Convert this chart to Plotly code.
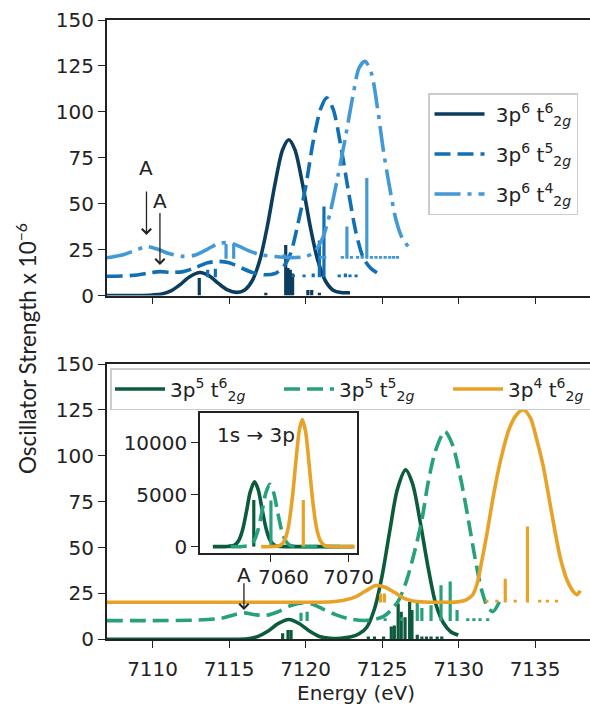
import plotly.graph_objects as go

W, H = 590, 704

# ---------------- top panel: 3p6 configurations ----------------
top_solid_E = [7107, 7109, 7110, 7110.6, 7111.2, 7111.8, 7112.4, 7113.1, 7113.7, 7114.3, 7114.9, 7115.5,
               7116, 7116.5, 7117, 7117.5, 7118, 7118.5, 7118.9, 7119.3, 7119.8, 7120.3, 7120.8, 7121.3,
               7121.8, 7122.3, 7122.9]
top_solid_f = [0, 0, 0.3, 0.8, 2.5, 5.9, 10.1, 12.5, 10.7, 6.6, 3.0, 1.7,
               2.9, 7.9, 19, 37.7, 60.7, 79.4, 84.8, 79.4, 60.7, 37.7, 19, 7.9,
               2.9, 1.6, 1.5]

top_dash_E = [7107, 7108, 7109, 7109.8, 7110.5, 7111.2, 7112, 7112.8, 7113.6, 7114.3, 7115, 7115.8,
              7116.5, 7117.3, 7118, 7118.5, 7119, 7119.5, 7120, 7120.5, 7121, 7121.38, 7121.8, 7122.3,
              7122.8, 7123.3, 7123.8, 7124.3, 7124.75]
top_dash_f = [10.5, 10.6, 11.2, 12.3, 13.0, 12.6, 13.0, 15.2, 17.8, 18.6, 17.8, 15.0,
              12.6, 11.3, 12.0, 15.0, 22.5, 39, 59, 84, 102, 107.6, 101.5, 81.5,
              56.7, 34, 20, 14.5, 12.0]

top_dashdot_E = [7107, 7108, 7109, 7109.6, 7110.3, 7111, 7112, 7112.8, 7113.6, 7114.3, 7114.9, 7115.6,
                 7116.3, 7117, 7118, 7119, 7119.8, 7120.5, 7121.1, 7121.6, 7122.1, 7122.6, 7123.1, 7123.5,
                 7123.88, 7124.3, 7124.7, 7125.1, 7125.5, 7125.9, 7126.3, 7126.8]
top_dashdot_f = [20.6, 22.0, 25.0, 26.6, 25.3, 23.0, 21.3, 22.0, 25.3, 28.2, 28.8, 27.0,
                 24.3, 22.3, 21.2, 20.6, 21.0, 23.0, 31, 45, 64.5, 86, 109, 124,
                 127.5, 121, 102, 78, 58.5, 41.5, 31.5, 25.7]

# sticks (energy, height above the series offset)
top_solid_stick_E = [7113.05, 7117.4, 7118.7, 7118.85, 7119.0, 7119.15, 7120.15, 7120.4, 7120.9]
top_solid_stick_h = [9.5, 1.5, 27.5, 15, 14, 12, 3, 3, 1.5]
top_dash_stick_E = [7113.6, 7114.1, 7119.2, 7119.9, 7120.5, 7120.9, 7121.2, 7122.2, 7122.6, 7122.9, 7123.3]
top_dash_stick_h = [4, 4.5, 1.5, 1.5, 2, 20, 38.5, 1.5, 2, 1.5, 1.5]
top_dashdot_stick_E = [7114.8, 7115.3, 7118.6, 7121.0, 7121.25, 7122.4, 7122.7, 7123.0, 7123.4, 7123.7,
                       7124.0, 7124.3, 7124.6, 7124.9, 7125.2, 7125.5, 7125.75, 7126.0]
top_dashdot_stick_h = [8, 8, 2.5, 1.5, 1.5, 1.5, 17.5, 1.5, 1.5, 1.5,
                       44, 1.5, 1.5, 1.5, 1.5, 1.5, 1.5, 1.5]
top_offsets = [0, 10, 20]

# ---------------- bottom panel: 3p5 / 3p4 configurations ----------------
bot_solid_E = [7107, 7112, 7115, 7116.2, 7116.9, 7117.5, 7118.2, 7118.9, 7119.6, 7120.3, 7120.9, 7121.6,
               7122.3, 7122.9, 7123.5, 7124.0, 7124.5, 7125.0, 7125.5, 7126.0, 7126.54, 7127.0, 7127.5,
               7128.0, 7128.5, 7129.0, 7129.5, 7129.98]
bot_solid_f = [0, 0, 0, 0.3, 1.6, 4.2, 8.5, 10.8, 8.5, 4.2, 1.5, 0.5,
               0.6, 1.2, 3.0, 6.6, 16.5, 34.6, 59, 81.8, 92.3, 84.5, 63.5,
               39.5, 19.5, 9.0, 4.0, 2.3]

bot_dash_E = [7107, 7110, 7113, 7114.5, 7115.3, 7116, 7116.7, 7117.4, 7118.2, 7119, 7119.8, 7120.5,
              7121.2, 7122, 7123, 7124, 7124.6, 7125.1, 7125.6, 7126.1, 7126.6, 7127.1, 7127.6, 7128.0,
              7128.5, 7129.1, 7129.6, 7130.1, 7130.6, 7131.1, 7131.5, 7131.9, 7132.25, 7132.7]
bot_dash_f = [10.2, 10.2, 10.5, 11.5, 13.3, 14.4, 13.4, 13.0, 15.0, 18.3, 19.8, 19.0,
              16.2, 13.3, 10.9, 10.3, 11.0, 12.5, 16.0, 21.5, 32, 47, 65, 85,
              103, 113.2, 106, 89, 67, 43, 27, 17.5, 15.1, 21]

bot_orange_E = [7107, 7112, 7117, 7120.5, 7121.7, 7122.5, 7123.3, 7124.0, 7124.6, 7125.2, 7125.8, 7126.4,
                7127.0, 7127.8, 7129.0, 7129.9, 7130.5, 7130.9, 7131.2, 7131.5, 7131.84, 7132.27, 7132.7,
                7133.3, 7133.8, 7134.23, 7134.7, 7135.1, 7135.54, 7136.08, 7136.63, 7137.1, 7137.5,
                7137.75, 7137.95]
bot_orange_f = [20.2, 20.2, 20.2, 20.2, 20.5, 21.3, 23.3, 26.7, 29.3, 28.4, 25.6, 22.4,
                20.9, 20.3, 20.2, 20.4, 21.5, 24, 30, 42, 57, 78, 96,
                114.5, 122.5, 125.1, 120.5, 109, 94, 69, 45, 32, 26,
                24.3, 26.5]

bot_solid_stick_E = [7118.5, 7118.85, 7119.05, 7124.1, 7124.5, 7125.1, 7125.6, 7125.8, 7126.05, 7126.25,
                     7126.5, 7126.8, 7126.95, 7127.3, 7127.6, 7127.9, 7128.2, 7128.6, 7128.9]
bot_solid_stick_h = [3.3, 5, 5, 1.5, 1.5, 1.5, 7, 7.5, 19.5, 15,
                     12, 20.5, 16, 2.5, 1.5, 1.5, 1.5, 1.5, 1.5]
bot_dash_stick_E = [7119.7, 7120.1, 7125.2, 7126.3, 7127.3, 7127.6, 7128.2, 7128.85, 7129.45, 7129.9,
                    7130.6, 7131.0, 7131.4, 7131.9]
bot_dash_stick_h = [4.5, 5, 1.5, 2, 10.5, 7, 8.5, 19.5, 21.5, 6, 1.5, 1.5, 1.5, 1.5]
bot_orange_stick_E = [7124.9, 7125.15, 7131.85, 7132.5, 7133.05, 7133.7, 7134.5, 7135.3, 7135.8, 7136.4]
bot_orange_stick_h = [5, 5, 1.5, 1.5, 13, 1.5, 41.5, 1.5, 1.5, 1.5]
bot_offsets = [0, 10, 20]

# ---------------- inset: 1s -> 3p ----------------
ins_solid_E = [7052.6, 7054.5, 7055.4, 7055.9, 7056.4, 7056.9, 7057.4, 7057.94, 7058.4, 7058.9, 7059.4,
               7059.9, 7060.4, 7061.0, 7063, 7070.6]
ins_solid_f = [0, 20, 150, 565, 1590, 3345, 5280, 6250, 5530, 3670, 1826, 677, 190, 30, 0, 0]
ins_dash_E = [7054.9, 7056.4, 7057.4, 7057.9, 7058.4, 7058.9, 7059.4, 7059.9, 7060.4, 7060.9, 7061.4,
              7061.9, 7062.4, 7063.2, 7064.5, 7069.3]
ins_dash_f = [0, 5, 160, 595, 1630, 3370, 5190, 6000, 5190, 3370, 1630, 595, 160, 20, 0, 0]
ins_orange_E = [7058.8, 7060.3, 7061.3, 7061.8, 7062.3, 7062.8, 7063.3, 7063.7, 7064.08, 7064.5, 7064.9,
                7065.4, 7065.9, 7066.4, 7066.9, 7067.8, 7070.8]
ins_orange_f = [0, 10, 140, 610, 1960, 4750, 8600, 11270, 12250, 11060, 8300, 4475, 1805, 545, 123, 0, 0]
ins_stick_E = [7057.85, 7060.05, 7064.2]
ins_stick_h = [4500, 4450, 4500]

# tick values
x_ticks = [7110, 7115, 7120, 7125, 7130, 7135]
y_ticks = [0, 25, 50, 75, 100, 125, 150]
ins_x_ticks = [7060, 7070]
ins_x_labels = ["7060", "7070"]
ins_y_ticks = [0, 5000, 10000]

# labels
NB = "\u00a0"
top_names = [NB + "3p<sup>6</sup> t<sup>6</sup><sub>2<i>g</i></sub>",
             NB + "3p<sup>6</sup> t<sup>5</sup><sub>2<i>g</i></sub>",
             NB + "3p<sup>6</sup> t<sup>4</sup><sub>2<i>g</i></sub>"]
bot_names = ["3p<sup>5</sup> t<sup>6</sup><sub>2<i>g</i></sub>",
             "3p<sup>5</sup> t<sup>5</sup><sub>2<i>g</i></sub>",
             "3p<sup>4</sup> t<sup>6</sup><sub>2<i>g</i></sub>"]

# styles
NAVY, MBLUE, LBLUE = "#0b3d5e", "#1170b5", "#4398d6"
DGREEN, MGREEN, ORANGE = "#0c5c3c", "#26a17a", "#e8a227"
DASH = "16px,7px"
DASHDOT = "26px,7px,4px,7px"
TXT = "#222222"
FONT = "DejaVu Sans"
LW, SW = 3.6, 3.2

fig = go.Figure()


def add_curve(E, f, color, dash, name, xa, ya, legend="legend", show=True):
    fig.add_trace(go.Scatter(
        x=E, y=f, mode="lines", name=name, xaxis=xa, yaxis=ya, legend=legend,
        legendgroup=name if show else None,
        showlegend=show, hoverinfo="skip",
        line=dict(color=color, width=LW, dash=dash, shape="spline", smoothing=0.8)))


def add_sticks(E, h, base, color, xa, ya):
    xs, ys = [], []
    for e, v in zip(E, h):
        xs += [e, e, None]
        ys += [base, base + v, None]
    fig.add_trace(go.Scatter(x=xs, y=ys, mode="lines", xaxis=xa, yaxis=ya, showlegend=False,
                             hoverinfo="skip", line=dict(color=color, width=SW)))


# top panel
add_curve(top_solid_E, top_solid_f, NAVY, "solid", top_names[0], "x", "y")
add_sticks(top_solid_stick_E, top_solid_stick_h, top_offsets[0], NAVY, "x", "y")
add_curve(top_dash_E, top_dash_f, MBLUE, DASH, top_names[1], "x", "y")
add_sticks(top_dash_stick_E, top_dash_stick_h, top_offsets[1], MBLUE, "x", "y")
add_curve(top_dashdot_E, top_dashdot_f, LBLUE, DASHDOT, top_names[2], "x", "y")
add_sticks(top_dashdot_stick_E, top_dashdot_stick_h, top_offsets[2], LBLUE, "x", "y")

# bottom panel
add_curve(bot_solid_E, bot_solid_f, DGREEN, "solid", bot_names[0], "x2", "y2", "legend2")
add_sticks(bot_solid_stick_E, bot_solid_stick_h, bot_offsets[0], DGREEN, "x2", "y2")
add_curve(bot_dash_E, bot_dash_f, MGREEN, DASH, bot_names[1], "x2", "y2", "legend2")
add_sticks(bot_dash_stick_E, bot_dash_stick_h, bot_offsets[1], MGREEN, "x2", "y2")
add_curve(bot_orange_E, bot_orange_f, ORANGE, "solid", bot_names[2], "x2", "y2", "legend2")
add_sticks(bot_orange_stick_E, bot_orange_stick_h, bot_offsets[2], ORANGE, "x2", "y2")

# inset
add_curve(ins_solid_E, ins_solid_f, DGREEN, "solid", "", "x3", "y3", show=False)
add_sticks(ins_stick_E[:1], ins_stick_h[:1], 0, DGREEN, "x3", "y3")
add_curve(ins_dash_E, ins_dash_f, MGREEN, DASH, "", "x3", "y3", show=False)
add_sticks(ins_stick_E[1:2], ins_stick_h[1:2], 0, MGREEN, "x3", "y3")
add_curve(ins_orange_E, ins_orange_f, ORANGE, "solid", "", "x3", "y3", show=False)
add_sticks(ins_stick_E[2:], ins_stick_h[2:], 0, ORANGE, "x3", "y3")

axis_common = dict(showgrid=False, zeroline=False, showline=True, linecolor=TXT, linewidth=1.5,
                   ticks="outside", ticklen=7, tickwidth=1.4, tickcolor=TXT, automargin=False,
                   tickfont=dict(family=FONT, size=20, color=TXT))

xdom = [106.7 / W, 1.0]
xrange_main = [7107, 7107 + (W - 106.7) / 15.3]


def ydom(top_px, bot_px):
    return [1 - bot_px / H, 1 - top_px / H]


fig.update_layout(
    template="none",
    width=W, height=H, margin=dict(l=0, r=0, t=0, b=0, pad=0, autoexpand=False),
    paper_bgcolor="white", plot_bgcolor="white",
    xaxis=dict(domain=xdom, range=xrange_main, anchor="y", tickvals=x_ticks, showticklabels=False,
               mirror=True, **axis_common),
    yaxis=dict(domain=ydom(20, 295.5), range=[0, 150], anchor="x", tickvals=y_ticks, **axis_common),
    xaxis2=dict(domain=xdom, range=xrange_main, anchor="y2", tickvals=x_ticks, mirror=True,
                ticklabelstandoff=4, **axis_common),
    yaxis2=dict(domain=ydom(364, 639.3), range=[0, 150], anchor="x2", tickvals=y_ticks, **axis_common),
    # inset x tick marks; their labels are placed as text below (the 7060 label sits right of its tick)
    xaxis3=dict(domain=[200 / W, 356.7 / W], range=[7050.95, 7071.05], anchor="y3", tickvals=ins_x_ticks,
                showticklabels=False, mirror=True, **axis_common),
    yaxis3=dict(domain=ydom(412.7, 553), range=[-615, 12915], anchor="x3", tickvals=ins_y_ticks,
                ticktext=[str(v) for v in ins_y_ticks], mirror=True, **axis_common),
    legend=dict(x=428 / W, y=1 - 93 / H, xanchor="left", yanchor="top", bgcolor="white",
                bordercolor="#cccccc", borderwidth=1.5, itemwidth=50, tracegroupgap=11,
                font=dict(family=FONT, size=20, color=TXT)),
    legend2=dict(x=110 / W, y=1 - 368 / H, xanchor="left", yanchor="top", orientation="h",
                 bgcolor="white", bordercolor="#cccccc", borderwidth=1.5, itemwidth=50,
                 entrywidth=104, entrywidthmode="pixels",
                 font=dict(family=FONT, size=20, color=TXT)),
    showlegend=True,
)

# inset x tick labels
for lab, xc in zip(ins_x_labels, [283.5, 348.5]):
    fig.add_annotation(text=lab, x=xc / W, y=1 - 577 / H, xref="paper", yref="paper", showarrow=False,
                       xanchor="center", yanchor="middle", font=dict(family=FONT, size=20, color=TXT))

# axis titles and inset label
fig.add_annotation(text="Oscillator Strength x 10<sup>\u22126</sup>", textangle=-90,
                   x=26 / W, y=1 - 349 / H, xref="paper", yref="paper", showarrow=False,
                   xanchor="center", yanchor="middle",
                   font=dict(family="Lato", size=22.5, color=TXT))
fig.add_annotation(text="Energy (eV)", x=356 / W, y=1 - 693 / H, xref="paper", yref="paper",
                   xanchor="center", yanchor="middle",
                   showarrow=False, font=dict(family=FONT, size=20, color=TXT))
fig.add_annotation(text="1s \u2192 3p", x=256 / W, y=1 - 435 / H, xref="paper", yref="paper",
                   xanchor="center", yanchor="middle",
                   showarrow=False, font=dict(family=FONT, size=20, color=TXT))

# "A" markers: (x, text y, arrow tail y, arrow tip y, axes)
a_marks = [(7109.6, 69.5, 57.5, 33.0, "x", "y"),
           (7110.48, 51.2, 45.7, 16.6, "x", "y"),
           (7115.97, 34.9, 31.3, 16.0, "x2", "y2")]
for ax_, ty, tail, tip, xr, yr in a_marks:
    fig.add_annotation(text="A", x=ax_, y=ty, xref=xr, yref=yr, showarrow=False,
                       xanchor="center", yanchor="middle",
                       font=dict(family=FONT, size=20, color=TXT))
    fig.add_annotation(text="", x=ax_, y=tip, ax=ax_, ay=tail, xref=xr, yref=yr, axref=xr, ayref=yr,
                       showarrow=True, arrowhead=4, arrowsize=1.4, arrowwidth=1.3, arrowcolor=TXT,
                       standoff=0, startstandoff=0)

fig.write_html("out.html", config={"displayModeBar": False},
               post_script="document.body.style.margin='0px';")
